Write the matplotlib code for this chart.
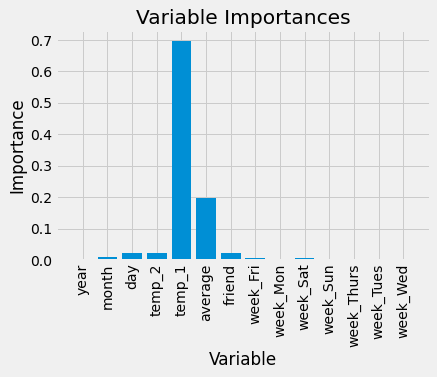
import matplotlib
matplotlib.use("Agg")
import matplotlib.pyplot as plt

plt.style.use('fivethirtyeight')

features = ['year', 'month', 'day', 'temp_2', 'temp_1', 'average', 'friend',
            'week_Fri', 'week_Mon', 'week_Sat', 'week_Sun', 'week_Thurs',
            'week_Tues', 'week_Wed']
importances = [0.0, 0.009, 0.021, 0.021, 0.697, 0.196, 0.022,
               0.005, 0.0, 0.005, 0.0, 0.0, 0.0, 0.0]

fig = plt.figure(figsize=(437/72, 377/72), dpi=72)
ax = fig.add_axes([56/437, 1-260/377, (430-56)/437, (260-30)/377])
x = list(range(len(features)))
ax.bar(x, importances, orientation='vertical')
ax.set_xticks(x)
ax.set_xticklabels(features, rotation='vertical')
ax.set_ylabel('Importance')
ax.set_xlabel('Variable')
ax.set_title('Variable Importances')
fig.savefig('out.png', dpi=72)
